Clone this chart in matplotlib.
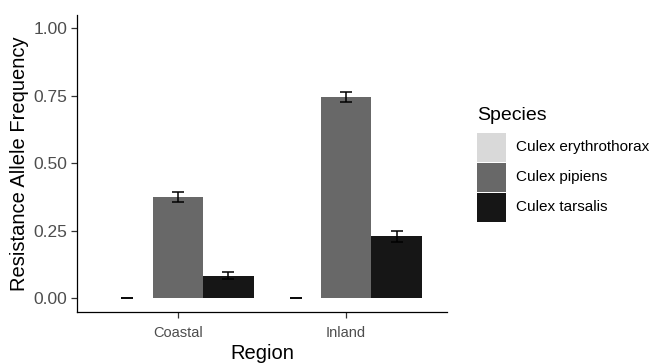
from matplotlib import pyplot as plt
from matplotlib.patches import Rectangle
import numpy as np
from matplotlib import rc
rc('font', **{'family': 'Liberation Sans'})

regions = ['Coastal', 'Inland']
species = ['Culex erythrothorax', 'Culex pipiens', 'Culex tarsalis']
freq = {
    'Culex erythrothorax': [0.0, 0.0],
    'Culex pipiens': [0.375, 0.746],
    'Culex tarsalis': [0.083, 0.229],
}
err = {
    'Culex erythrothorax': [0.0, 0.0],
    'Culex pipiens': [0.018, 0.018],
    'Culex tarsalis': [0.013, 0.020],
}
colors = {
    'Culex erythrothorax': '#d9d9d9',
    'Culex pipiens': '#686868',
    'Culex tarsalis': '#161616',
}
y_ticks = [0.0, 0.25, 0.5, 0.75, 1.0]

W, H = 654, 363
fig = plt.figure(figsize=(W / 100, H / 100), dpi=100)
ax = fig.add_axes([0.1177, 0.1413, 0.5658, 0.8174])

x = np.arange(1, len(regions) + 1)
width = 0.3
for i, sp in enumerate(species):
    pos = x + (i - 1) * width
    ax.bar(pos, freq[sp], width=width, color=colors[sp], linewidth=0)
    ax.errorbar(pos, freq[sp], yerr=err[sp], fmt='none', ecolor='black',
                elinewidth=1.1, capsize=4.3, capthick=1.1)

ax.set_xlim(0.4, 2.6)
ax.set_ylim(-0.05, 1.05)
ax.set_xticks(x)
ax.set_xticklabels(regions, fontsize=10.5, color='#4d4d4d')
ax.set_yticks(y_ticks)
ax.set_yticklabels(['{:.2f}'.format(v) for v in y_ticks], fontsize=12.5, color='#4d4d4d')
ax.tick_params(length=4, width=0.9, color='#333333')
ax.tick_params(axis='x', pad=6)
ax.tick_params(axis='y', pad=3)
for s in ['top', 'right']:
    ax.spines[s].set_visible(False)
for s in ['left', 'bottom']:
    ax.spines[s].set_linewidth(0.9)
    ax.spines[s].set_color('black')

ax.set_xlabel('Region', fontsize=14.5, labelpad=3)
ax.set_ylabel('Resistance Allele Frequency', fontsize=14.5, labelpad=3)

# legend: square keys stacked flush, laid out in figure pixels
key_x, key_top, key_size, key_step = 477, 133, 29, 30
fig.text(key_x / W, 1 - 115 / H, 'Species', fontsize=14, ha='left', va='center')
for i, sp in enumerate(species):
    top = key_top + i * key_step
    fig.patches.append(Rectangle((key_x / W, 1 - (top + key_size) / H),
                                 key_size / W, key_size / H,
                                 transform=fig.transFigure, figure=fig,
                                 facecolor=colors[sp], edgecolor='none'))
    fig.text(516 / W, 1 - (top + key_size / 2) / H, sp, fontsize=11,
             ha='left', va='center')

plt.savefig('out.png', dpi=100)
